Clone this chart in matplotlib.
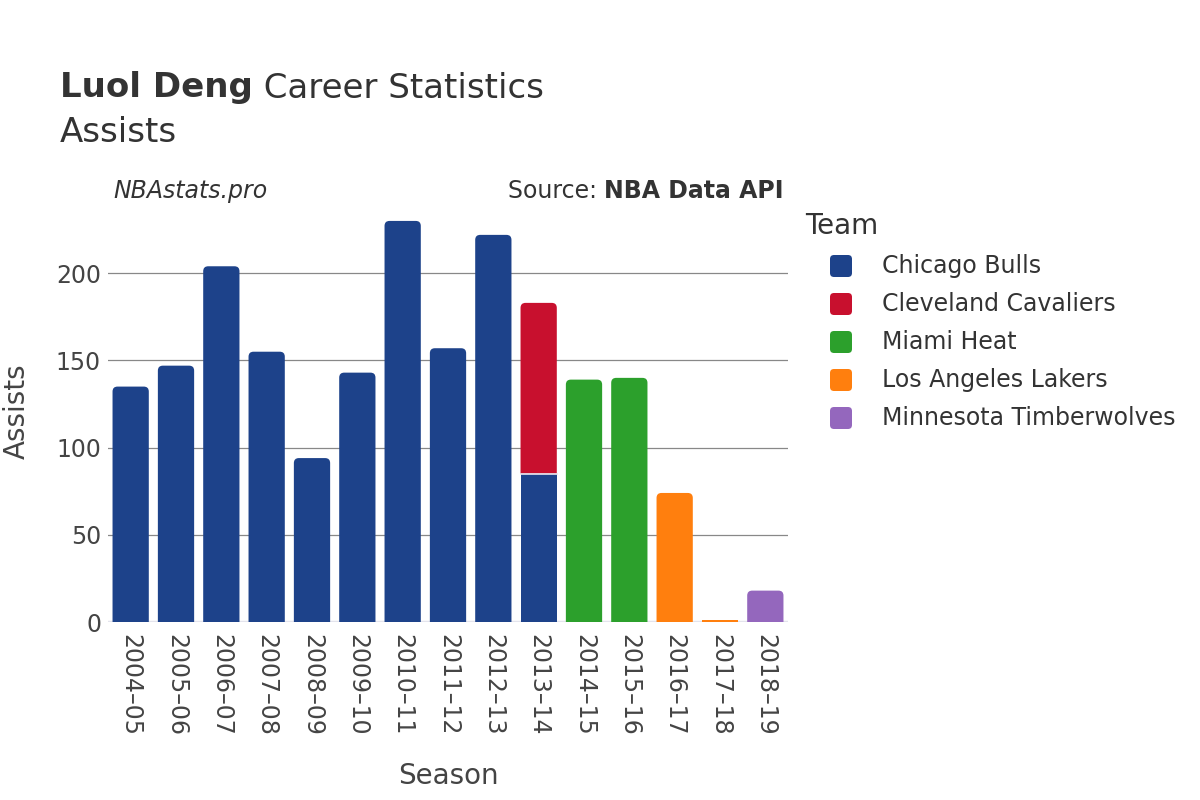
import matplotlib
matplotlib.use("Agg")
import matplotlib.pyplot as plt
from matplotlib.patches import FancyBboxPatch, PathPatch
from matplotlib.path import Path
from matplotlib.transforms import IdentityTransform
import numpy as np

seasons = ["2004–05", "2005–06", "2006–07", "2007–08", "2008–09", "2009–10",
           "2010–11", "2011–12", "2012–13", "2013–14", "2014–15", "2015–16",
           "2016–17", "2017–18", "2018–19"]
teams = ["Chicago Bulls", "Cleveland Cavaliers", "Miami Heat",
         "Los Angeles Lakers", "Minnesota Timberwolves"]
colors = ["#1d428a", "#c8102e", "#2ca02c", "#ff7f0e", "#9467bd"]

bulls  = [135, 147, 204, 155, 94, 143, 230, 157, 222, 85, 0, 0, 0, 0, 0]
cavs   = [0, 0, 0, 0, 0, 0, 0, 0, 0, 98, 0, 0, 0, 0, 0]
heat   = [0, 0, 0, 0, 0, 0, 0, 0, 0, 0, 139, 140, 0, 0, 0]
lakers = [0, 0, 0, 0, 0, 0, 0, 0, 0, 0, 0, 0, 74, 1, 0]
wolves = [0, 0, 0, 0, 0, 0, 0, 0, 0, 0, 0, 0, 0, 0, 18]
series = [bulls, cavs, heat, lakers, wolves]

W, H = 1200, 800
fig = plt.figure(figsize=(12, 8), dpi=100)
ax = fig.add_axes([108 / W, 1 - 622 / H, (788 - 108) / W, (622 - 200) / H])

ymax = 242
ax.set_ylim(0, ymax)
ax.set_xlim(-0.5, len(seasons) - 0.5)

x = np.arange(len(seasons))
bw = 0.8
px_per_x = (788 - 108) / len(seasons)
px_per_y = (622 - 200) / ymax
r_px = 5.0
rx = r_px / px_per_x
ry = r_px / px_per_y


def top_rounded_path(x0, y0, w, h):
    x1, y1 = x0 + w, y0 + h
    verts = [(x0, y0), (x0, y1 - ry), (x0, y1), (x0 + rx, y1),
             (x1 - rx, y1), (x1, y1), (x1, y1 - ry), (x1, y0), (x0, y0)]
    codes = [Path.MOVETO, Path.LINETO, Path.CURVE3, Path.CURVE3,
             Path.LINETO, Path.CURVE3, Path.CURVE3, Path.LINETO, Path.CLOSEPOLY]
    return Path(verts, codes)


bottom = np.zeros(len(seasons))
vals = np.array(series, dtype=float)
total = vals.sum(axis=0)
for ti, s in enumerate(series):
    s = np.array(s, dtype=float)
    bars = ax.bar(x, s, bw, bottom=bottom, color=colors[ti], linewidth=0, zorder=2)
    for i, (b, v) in enumerate(zip(bars, s)):
        if v <= 0:
            b.set_visible(False)
            continue
        is_top = np.isclose(bottom[i] + v, total[i])
        if is_top and v > 2 * ry:
            b.set_visible(False)
            pp = PathPatch(top_rounded_path(b.get_x(), b.get_y(), b.get_width(),
                                            b.get_height()),
                           facecolor=colors[ti], edgecolor="none", zorder=2)
            ax.add_patch(pp)
        if bottom[i] > 0:
            ax.plot([b.get_x(), b.get_x() + bw], [bottom[i], bottom[i]],
                    color="#e8e8f0", lw=1.2, zorder=3)
    bottom = bottom + s

ax.set_yticks([0, 50, 100, 150, 200])
ax.yaxis.grid(True, color="#888888", lw=0.9, zorder=0)
ax.set_axisbelow(True)
ax.axhline(0, color="#e3e3ec", lw=2.5, zorder=1)
for sp in ax.spines.values():
    sp.set_visible(False)
ax.tick_params(axis="both", length=0, labelsize=17, colors="#444444")
ax.tick_params(axis="y", pad=5)
ax.tick_params(axis="x", pad=9)
ax.set_xticks(x)
ax.set_xticklabels(seasons, rotation=-90, va="top", ha="center")

ax.set_xlabel("Season", fontsize=20, color="#444444", labelpad=18)
ax.set_ylabel("Assists", fontsize=20, color="#444444", labelpad=18)

txt_color = "#333333"
t1 = fig.text(60 / W, 1 - 88 / H, "Luol Deng", fontsize=24.5, fontweight="bold",
              color=txt_color, va="center", ha="left")
fig.canvas.draw()
bb = t1.get_window_extent()
fig.text(bb.x1 / W, 1 - 88 / H, " Career Statistics", fontsize=24.5,
         color=txt_color, va="center", ha="left")
fig.text(60 / W, 1 - 132 / H, "Assists", fontsize=24.5, color=txt_color,
         va="center", ha="left")

fig.text(113 / W, 1 - 191 / H, "NBAstats.pro", fontsize=17, style="italic",
         color=txt_color, va="center", ha="left")
t_src = fig.text(784 / W, 1 - 191 / H, "NBA Data API", fontsize=17,
                 fontweight="bold", color=txt_color, va="center", ha="right")
fig.canvas.draw()
bb2 = t_src.get_window_extent()
fig.text(bb2.x0 / W, 1 - 191 / H, "Source: ", fontsize=17, color=txt_color,
         va="center", ha="right")

fig.text(805 / W, 1 - 226 / H, "Team", fontsize=20, color=txt_color,
         va="center", ha="left")
for i, (tname, c) in enumerate(zip(teams, colors)):
    yc = H - (266 + 38 * i)
    sq = 22
    p = FancyBboxPatch((841 - sq / 2, yc - sq / 2), sq, sq,
                       boxstyle="round,pad=0,rounding_size=4",
                       facecolor=c, edgecolor="none", transform=IdentityTransform())
    fig.patches.append(p)
    fig.text(882 / W, yc / H, tname, fontsize=17, color=txt_color,
             va="center", ha="left")

fig.savefig("out.png", dpi=100, facecolor="white")
